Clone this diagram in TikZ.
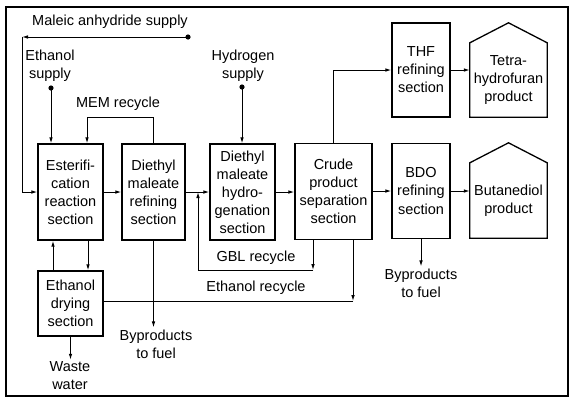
\documentclass[tikz,border=0pt]{standalone}
\usepackage{fontspec}
\setmainfont{Liberation Sans}
\usetikzlibrary{arrows.meta,calc}

\begin{document}
\begin{tikzpicture}[x=1pt,y=-1pt,font=\fontsize{14.5}{18}\selectfont,>={Latex[length=6pt,width=3.6pt]}]

    \tikzset{
      unit/.style={
        draw,
        line width=1.3pt,
        align=center,
        inner sep=0pt,
      },
      prod/.style={
        align=center,
        inner sep=0pt,
        minimum width=77pt,
      },
      txt/.style={
        align=center,
        inner sep=2pt,
      },
      flow/.style={line width=1pt},
    }
    \useasboundingbox (0,0) rectangle (577,400);
    \draw[line width=1.3pt] (6,7) rectangle (568,396);

    % process units
    \node[unit, minimum width=65pt, minimum height=96pt] (ester) at (70.5,192) {Esterifi-\\cation\\reaction\\section};
    \node[unit, minimum width=63pt, minimum height=96pt] (refine) at (153.5,192) {Diethyl\\maleate\\refining\\section};
    \node[unit, minimum width=65pt, minimum height=96pt] (hydro) at (242.5,192) {Diethyl\\maleate\\hydro-\\genation\\section};
    \node[unit, minimum width=77pt, minimum height=96pt] (crude) at (333.5,191.5) {Crude\\product\\separation\\section};
    \node[unit, minimum width=58pt, minimum height=94pt] (thf) at (421,70) {THF\\refining\\section};
    \node[unit, minimum width=58pt, minimum height=95pt] (bdo) at (421,191) {BDO\\refining\\section};
    \node[unit, minimum width=65pt, minimum height=65pt] (dry) at (70.5,303.5) {Ethanol\\drying\\section};

    % products
    \node[prod, minimum height=74pt] (thfprod) at (508.5,80) {Tetra-\\hydrofuran\\product};
    \node[prod, minimum height=75pt] (bdoprod) at (508.5,200.5) {Butanediol\\product};
    \foreach \p in {thfprod,bdoprod}
      \draw[line width=1.3pt] (\p.south west) -- (\p.north west) -- ($(\p.north)+(0,-20)$) -- (\p.north east) -- (\p.south east) -- cycle;

    % texts
    \node[txt] (maleic) at (110,22) {Maleic anhydride supply};
    \node[txt] (ethsup) at (50,66) {Ethanol\\supply};
    \node[txt] (h2sup) at (243,65.5) {Hydrogen\\supply};
    \node[txt] (mem) at (118,104) {MEM recycle};
    \node[txt] (gbl) at (256,258) {GBL recycle};
    \node[txt] (etrec) at (256,288) {Ethanol recycle};
    \node[txt] (byp1) at (156,344) {Byproducts\\to fuel};
    \node[txt] (byp2) at (421,283) {Byproducts\\to fuel};
    \node[txt] (waste) at (70,376) {Waste\\water};

    % feeds
    \coordinate (maldot) at (188,37);
    \coordinate (malturn) at (22,37);
    \coordinate (ethdot) at (51,88);
    \coordinate (h2dot) at (242,87);
    \foreach \p in {maldot,ethdot,h2dot}
      \fill (\p) circle (2.6pt);

    \draw[flow,->] (maldot) -- (malturn);
    \draw[flow,->] (malturn) |- (ester.west);
    \draw[flow,->] (ethdot) -- (ethdot |- ester.north);
    \draw[flow,->] (h2dot) -- (h2dot |- hydro.north);

    % main line
    \draw[flow,->] (ester.east) -- (refine.west);
    \draw[flow,->] (refine.east) -- (hydro.west);
    \draw[flow,->] (hydro.east) -- (hydro.east -| crude.west);
    \draw[flow,->] (crude.north) |- (thf.west);
    \draw[flow,->] (crude.east |- bdo.west) -- (bdo.west);
    \draw[flow,->] (thf.east) -- (thf.east -| thfprod.west);
    \draw[flow,->] (bdo.east) -- (bdo.east -| bdoprod.west);

    % recycles
    \draw[flow,->] (refine.north) -- ++(0,-26) -| ([xshift=16.5pt]ester.north);
    \coordinate (gblturn) at (313,270);
    \coordinate (gbljoin) at (198,192);
    \draw[flow,->] (crude.south -| gblturn) -- (gblturn);
    \draw[flow,->] (gblturn) -| (gbljoin);
    \coordinate (etturn) at (353,301);
    \draw[flow,->] (crude.south -| etturn) -- (etturn);
    \draw[flow] (etturn) -- (etturn -| dry.east);
    \draw[flow,->] ([xshift=-17.5pt]dry.north) -- ([xshift=-17.5pt]ester.south);
    \draw[flow,->] ([xshift=17.5pt]ester.south) -- ([xshift=17.5pt]dry.north);

    % outlets
    \draw[flow,->] (refine.south) -- (refine.south |- byp1.north);
    \draw[flow,->] (bdo.south) -- (byp2.north);
    \draw[flow,->] (dry.south) -- (dry.south |- waste.north);

\end{tikzpicture}
\end{document}
